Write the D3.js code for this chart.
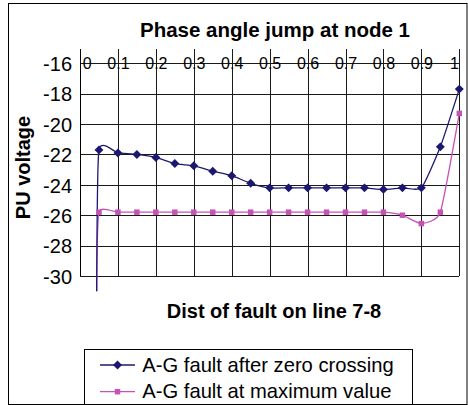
<!DOCTYPE html>
<html>
<head>
<meta charset="utf-8">
<script src="https://cdn.jsdelivr.net/npm/d3@7"></script>
<style>
  html, body { margin: 0; padding: 0; background: #fff; }
  svg { display: block; font-family: "Liberation Sans", Arial, sans-serif; }
  .grid line { stroke: #1a1a1a; stroke-width: 1; shape-rendering: crispEdges; }
  .grid .domain { display: none; }
</style>
</head>
<body>
<div id="chart"></div>
<script>
// Data (first point falls just below the axis)
const distances = [0.044, 0.05, 0.1, 0.15, 0.2, 0.25, 0.3, 0.35, 0.4, 0.45, 0.5,
                   0.55, 0.6, 0.65, 0.7, 0.75, 0.8, 0.85, 0.9, 0.95, 1];
const afterZeroCrossing = [-31, -21.7, -21.9, -22.0, -22.2, -22.6, -22.75, -23.1, -23.4, -23.9, -24.2,
                           -24.2, -24.2, -24.2, -24.2, -24.2, -24.3, -24.2, -24.2, -21.5, -17.7];
const atMaximumValue = [-31, -25.8, -25.8, -25.8, -25.8, -25.8, -25.8, -25.8, -25.8, -25.8, -25.8,
                        -25.8, -25.8, -25.8, -25.8, -25.8, -25.8, -26.0, -26.55, -25.8, -19.3];
const xTicks = [0, 0.1, 0.2, 0.3, 0.4, 0.5, 0.6, 0.7, 0.8, 0.9, 1];
const yTicks = [-16, -18, -20, -22, -24, -26, -28, -30];
const seriesNames = ["A-G fault after zero crossing", "A-G fault at maximum value"];

const W = 468, H = 405;
const plot = { left: 80, right: 459.3, top: 49.3, bottom: 276 };
const navy = "#1c1870";
const pink = "#c552b5";

const svg = d3.select("#chart").append("svg")
  .attr("width", W).attr("height", H);

// chart border
svg.append("rect")
  .attr("x", 8.5).attr("y", 3.5)
  .attr("width", 458.5).attr("height", 401)
  .attr("fill", "#fff").attr("stroke", "#000");

const x = d3.scaleLinear().domain([0, 1]).range([plot.left, plot.right]);
const y = d3.scaleLinear().domain([-30, -15.08]).range([plot.bottom, plot.top]);

// vertical gridlines
svg.append("g")
  .attr("class", "grid")
  .attr("transform", `translate(0,${plot.top})`)
  .call(d3.axisTop(x).tickValues(xTicks).tickSize(-(plot.bottom - plot.top)).tickFormat(""))
  .call(g => g.selectAll("text").remove());

// horizontal gridlines + y labels
svg.append("g")
  .attr("class", "grid")
  .attr("transform", `translate(${plot.left},0)`)
  .call(d3.axisLeft(y).tickValues(yTicks).tickSize(-(plot.right - plot.left)).tickPadding(8).tickFormat(d => String(d)))
  .call(g => g.selectAll("text")
    .attr("fill", "#000").attr("font-size", 20).attr("dy", "0.36em"));

// y axis line
svg.append("line")
  .attr("x1", plot.left).attr("x2", plot.left)
  .attr("y1", plot.top).attr("y2", plot.bottom)
  .attr("stroke", "#000").attr("shape-rendering", "crispEdges");

// x labels sit on the -16 line
const xAxis = svg.append("g")
  .attr("transform", `translate(0,${y(-16)})`)
  .call(d3.axisBottom(x).tickValues(xTicks).tickSize(0).tickPadding(0).tickFormat(d => String(d)));
xAxis.select(".domain").remove();
xAxis.selectAll("text")
  .attr("y", 0).attr("dy", "0.36em")
  .attr("fill", "#000").attr("font-size", 16)
  .attr("text-anchor", d => d === 0 ? "start" : d === 1 ? "end" : "middle")
  .attr("dx", d => d === 0 ? 2.3 : d === 1 ? -1 : 0);

// series
const line = vals => d3.line()
  .x((d, i) => x(distances[i]))
  .y(d => y(d))
  .curve(d3.curveCardinal.tension(0.5))(vals);

svg.append("path")
  .attr("d", line(atMaximumValue))
  .attr("fill", "none").attr("stroke", pink).attr("stroke-width", 1.3);

svg.append("path")
  .attr("d", line(afterZeroCrossing))
  .attr("fill", "none").attr("stroke", navy).attr("stroke-width", 1.3);

const inView = v => v >= -30 && v <= -15;
// diamond = square turned 45 degrees
const diamond = d3.symbol().type(d3.symbolSquare).size(40);
const square = d3.symbol().type(d3.symbolSquare).size(30);

svg.append("g").selectAll("path")
  .data(atMaximumValue.map((v, i) => [distances[i], v]).filter(d => inView(d[1])))
  .join("path")
  .attr("d", square)
  .attr("transform", d => `translate(${x(d[0])},${y(d[1])})`)
  .attr("fill", pink);

svg.append("g").selectAll("path")
  .data(afterZeroCrossing.map((v, i) => [distances[i], v]).filter(d => inView(d[1])))
  .join("path")
  .attr("d", diamond)
  .attr("transform", d => `translate(${x(d[0])},${y(d[1])}) rotate(45)`)
  .attr("fill", navy);

// titles
svg.append("text")
  .attr("x", 275).attr("y", 36.7)
  .attr("text-anchor", "middle")
  .attr("font-size", 20.5).attr("font-weight", "bold")
  .text("Phase angle jump at node 1");

svg.append("text")
  .attr("x", 274).attr("y", 318)
  .attr("text-anchor", "middle")
  .attr("font-size", 20).attr("font-weight", "bold")
  .text("Dist of fault on line 7-8");

svg.append("text")
  .attr("transform", "translate(30,167.5) rotate(-90)")
  .attr("text-anchor", "middle")
  .attr("font-size", 20).attr("font-weight", "bold")
  .text("PU voltage");

// legend
const legend = svg.append("g");
legend.append("rect")
  .attr("x", 84.5).attr("y", 349.5)
  .attr("width", 328).attr("height", 55)
  .attr("fill", "#fff").attr("stroke", "#000");

const legendRows = [
  { name: seriesNames[0], color: navy, symbol: diamond, rot: 45, cy: 365 },
  { name: seriesNames[1], color: pink, symbol: square, rot: 0, cy: 391.7 }
];
legendRows.forEach(r => {
  legend.append("line")
    .attr("x1", 100).attr("x2", 135)
    .attr("y1", r.cy).attr("y2", r.cy)
    .attr("stroke", r.color).attr("stroke-width", 1.3);
  legend.append("path")
    .attr("d", r.symbol)
    .attr("transform", `translate(117.5,${r.cy}) rotate(${r.rot})`)
    .attr("fill", r.color);
  legend.append("text")
    .attr("x", 142.3).attr("y", r.cy + 6.5)
    .attr("font-size", 20.2)
    .text(r.name);
});
</script>
</body>
</html>
